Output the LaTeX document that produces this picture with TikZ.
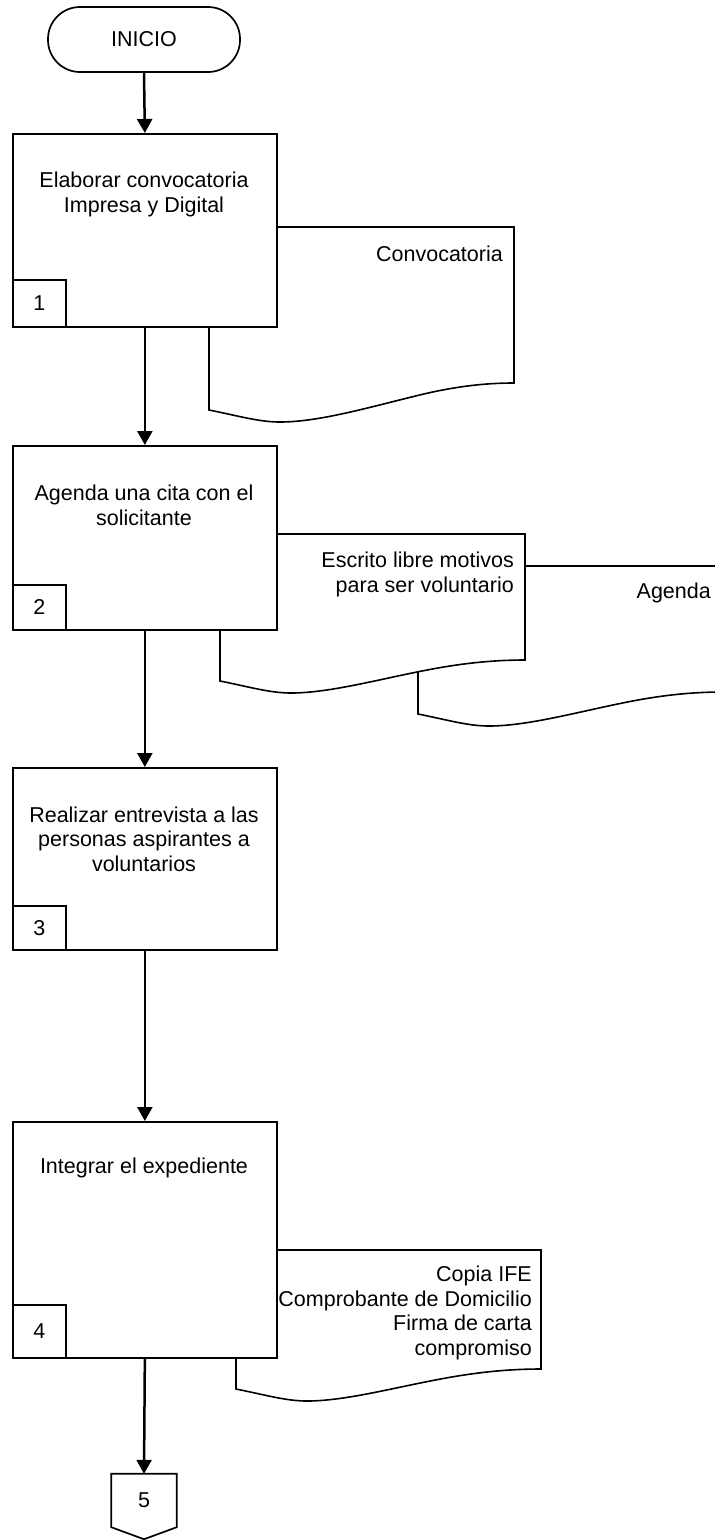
\documentclass[tikz,border=0pt]{standalone}
\usepackage{fontspec}
\setmainfont{Liberation Sans}
\usetikzlibrary{arrows.meta,calc}

% Document symbol with a wavy lower edge:
% #1 left x, #2 top y, #3 y of the lower left corner, #4 rise of the lower right corner
\newcommand\docsheet[4]{%
  \begin{scope}[shift={(#1,#3)}]
    \path[docshape] (0,{#2-#3}) -- (0,0)
      .. controls (30,6) and (50,12) .. (71,12)
      .. controls (110,12) and (160,{0.1*(#4)}) .. (210,{0.55*(#4)})
      .. controls (245,{0.865*(#4)}) and (275,#4) .. (305,#4)
      -- (305,{#2-#3}) -- cycle;
  \end{scope}}

\begin{document}
\begin{tikzpicture}[x=1pt,y=-1pt,
  font=\fontsize{21.5}{24.5}\selectfont,
  proc/.style={draw,line width=1.7pt,fill=white,rectangle,anchor=north west,
    minimum width=264pt,inner sep=0pt},
  numbox/.style={draw,line width=1.7pt,fill=white,anchor=south west,
    minimum width=53pt,inner sep=0pt},
  stadium/.style={draw,line width=1.7pt,rounded corners=32pt,
    minimum width=192pt,minimum height=65pt,inner sep=0pt},
  docshape/.style={draw,line width=1.6pt,fill=white},
  boxtext/.style={inner sep=0pt,align=center},
  doctext/.style={inner sep=0pt,align=right,anchor=east},
  flow/.style={line width=2.5pt,-{Triangle[width=15pt,length=14pt]}},
]
\useasboundingbox (0,0) rectangle (715,1540);
\clip (0,0) rectangle (715,1540);

% start
\node[stadium] (ini) at (144,39.5) {INICIO};

% step 1
\docsheet{209}{227}{410}{-27}
\node[doctext] (d1t) at (503,254) {Convocatoria};
\node[proc,minimum height=193pt] (b1) at (12,133) {};
\node[numbox,minimum height=47pt] (n1) at (b1.south west) {1};
\node[boxtext] (t1) at (144,194.5) {Elaborar convocatoria\\Impresa y Digital};

% step 2
\docsheet{418}{566}{714}{-22}
\node[doctext] (d3t) at (711,593) {Agenda};
\docsheet{220}{534}{681}{-21}
\node[doctext] (d2t) at (514,574.5) {Escrito libre motivos\\para ser voluntario};
\node[proc,minimum height=184pt] (b2) at (12,445) {};
\node[numbox,minimum height=45pt] (n2) at (b2.south west) {2};
\node[boxtext] (t2) at (144,505.5) {Agenda una cita con el\\solicitante};

% step 3
\node[proc,minimum height=182pt] (b3) at (12,767) {};
\node[numbox,minimum height=44pt] (n3) at (b3.south west) {3};
\node[boxtext] (t3) at (144,839) {Realizar entrevista a las\\personas aspirantes a\\voluntarios};

% step 4
\docsheet{236}{1250}{1389}{-20}
\node[doctext] (d4t) at (532,1313) {Copia IFE\\Comprobante de Domicilio\\Firma de carta\\compromiso};
\node[proc,minimum height=236pt] (b4) at (12,1121) {};
\node[numbox,minimum height=53pt] (n4) at (b4.south west) {4};
\node[boxtext] (t4) at (144,1168) {Integrar el expediente};

% off-page connector
\node[inner sep=0pt,minimum width=65pt,minimum height=53pt] (p5) at (144,1500.5) {5};
\draw[line width=1.7pt] (p5.north west) -- (p5.north east) -- (p5.south east)
  -- ($(p5.south)+(0,12)$) -- (p5.south west) -- cycle;

% flow
\draw[flow] (ini.south) -- (b1.north);
\draw[flow] (b1.south) -- (b2.north);
\draw[flow] (b2.south) -- (b3.north);
\draw[flow] (b3.south) -- (b4.north);
\draw[flow] (b4.south) -- (p5.north);
\end{tikzpicture}
\end{document}
